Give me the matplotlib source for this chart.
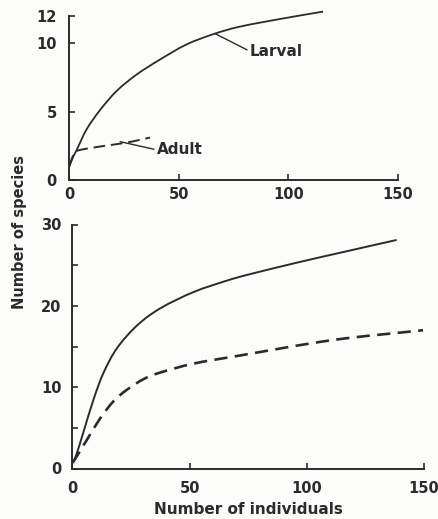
import matplotlib
matplotlib.use("Agg")
import matplotlib.pyplot as plt
import numpy as np
from matplotlib.path import Path
from matplotlib.patches import PathPatch

# ---- data ----
top_larval_x = [0, 1.8, 3.4, 7.9, 14.0, 21.6, 30.7, 41.4, 53.5, 65.7, 77.8, 97.6, 115.8]
top_larval_y = [1.0, 1.7, 2.2, 3.7, 5.1, 6.5, 7.7, 8.8, 9.9, 10.65, 11.2, 11.8, 12.3]
top_adult_x = [0, 1.5, 3.0, 10.2, 20.8, 28.4, 36.8]
top_adult_y = [1.0, 1.7, 2.1, 2.35, 2.6, 2.8, 3.1]

bot_solid_x = [0, 1.3, 4.8, 9.1, 13.3, 19.0, 27.6, 37.5, 51.7, 65.9, 75.8, 97.1, 118.4, 138.3]
bot_solid_y = [0.8, 1.4, 4.6, 8.6, 11.8, 14.8, 17.6, 19.7, 21.7, 23.1, 23.9, 25.4, 26.8, 28.1]
bot_dash_x = [0, 1.3, 6.3, 11.9, 17.6, 23.3, 30.4, 37.5, 51.7, 71.6, 111.2, 149.6]
bot_dash_y = [0.7, 1.25, 3.6, 6.2, 8.3, 9.7, 11.0, 11.8, 12.9, 13.9, 15.8, 17.0]

top_xticks = [0, 50, 100, 150]
top_yticks = [0, 5, 10, 12]
bot_xticks = [0, 50, 100, 150]
bot_yticks = [0, 5, 10, 15, 20, 25, 30]
bot_ylabels = ["0", "", "10", "", "20", "", "30"]

INK = "#2b2b2b"
plt.rcParams["font.family"] = ["DejaVu Sans"]
plt.rcParams["font.weight"] = "bold"

fig = plt.figure(figsize=(4.39, 5.19), dpi=100, facecolor="#fcfcfb")
W, H = 439, 519


def smooth_curve(ax, xs, ys, **kw):
    """Draw a smooth (Catmull-Rom) curve through the read points."""
    pts = np.column_stack([xs, ys]).astype(float)
    P = np.vstack([2 * pts[0] - pts[1], pts, 2 * pts[-1] - pts[-2]])
    verts = [pts[0]]
    codes = [Path.MOVETO]
    for i in range(1, len(P) - 2):
        p0, p1, p2, p3 = P[i - 1], P[i], P[i + 1], P[i + 2]
        verts += [p1 + (p2 - p0) / 6.0, p2 - (p3 - p1) / 6.0, p2]
        codes += [Path.CURVE4] * 3
    patch = PathPatch(Path(verts, codes), fill=False, clip_on=False,
                      capstyle="butt", joinstyle="round", **kw)
    ax.add_patch(patch)
    return patch


def style(ax):
    for s in ("top", "right"):
        ax.spines[s].set_visible(False)
    for s in ("left", "bottom"):
        ax.spines[s].set_color(INK)
        ax.spines[s].set_linewidth(1.4)
    ax.set_facecolor("none")
    ax.tick_params(direction="in", length=4, width=1.2, colors=INK,
                   labelsize=10.5, labelcolor=INK)
    for lab in ax.get_xticklabels() + ax.get_yticklabels():
        lab.set_fontweight("bold")


ax1 = fig.add_axes([69.3 / W, (H - 180) / H, (398 - 69.3) / W, (180 - 15.7) / H])
ax1.set_xlim(0, 150)
ax1.set_ylim(0, 12)
ax1.set_xticks(top_xticks)
ax1.set_yticks(top_yticks)
smooth_curve(ax1, top_larval_x, top_larval_y, edgecolor=INK, lw=1.3)
smooth_curve(ax1, top_adult_x, top_adult_y, edgecolor=INK, lw=1.4,
             linestyle=(0, (6, 3)))
style(ax1)
ax1.tick_params(axis="x", pad=5)
ax1.tick_params(axis="y", pad=9)
ax1.annotate("Larval", xy=(66.4, 10.7), xytext=(82.4, 9.4), fontsize=11,
             fontweight="bold", color=INK, va="center", ha="left",
             arrowprops=dict(arrowstyle="-", color=INK, lw=1.0,
                             shrinkA=0, shrinkB=0, relpos=(0, 0.5)))
ax1.annotate("Adult", xy=(23.2, 2.8), xytext=(39.9, 2.2), fontsize=11,
             fontweight="bold", color=INK, va="center", ha="left",
             arrowprops=dict(arrowstyle="-", color=INK, lw=1.0,
                             shrinkA=0, shrinkB=0, relpos=(0, 0.5)))

ax2 = fig.add_axes([72.5 / W, (H - 468.5) / H, (424 - 72.5) / W, (468.5 - 224.5) / H])
ax2.set_xlim(0, 150)
ax2.set_ylim(0, 30)
ax2.set_xticks(bot_xticks)
ax2.set_yticks(bot_yticks)
ax2.set_yticklabels(bot_ylabels)
smooth_curve(ax2, bot_solid_x, bot_solid_y, edgecolor=INK, lw=1.4)
smooth_curve(ax2, bot_dash_x, bot_dash_y, edgecolor=INK, lw=1.9,
             linestyle=(0, (5, 2.8)))
style(ax2)
ax2.tick_params(axis="x", pad=9)
ax2.tick_params(axis="y", pad=8)
ax2.set_xlabel("Number of individuals", fontsize=11, fontweight="bold",
               color=INK, labelpad=4)

fig.text(20 / W, 1 - 232 / H, "Number of species", rotation=90, fontsize=10.5,
         fontweight="bold", color=INK, ha="center", va="center")

fig.savefig("out.png", dpi=100, facecolor=fig.get_facecolor())
